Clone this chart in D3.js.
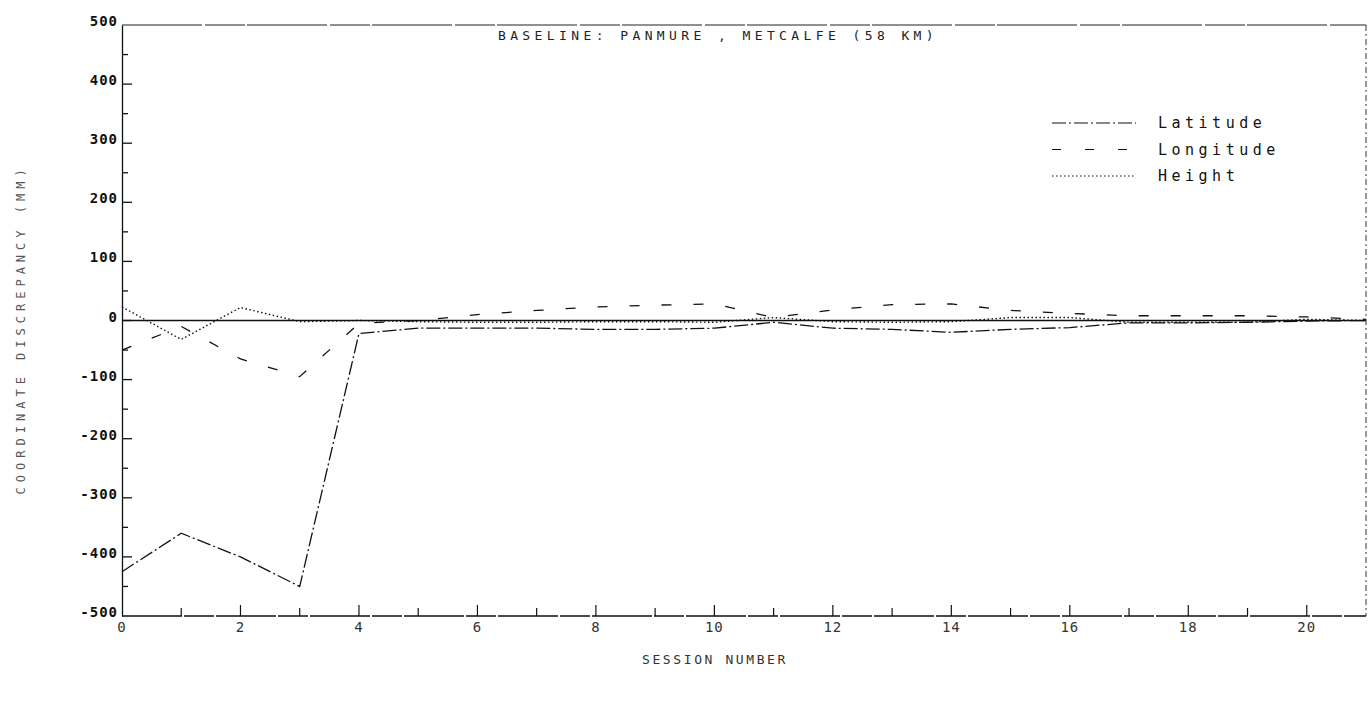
<!DOCTYPE html>
<html>
<head>
<meta charset="utf-8">
<script src="https://cdn.jsdelivr.net/npm/d3@7"></script>
<style>
  body { margin: 0; background: #fff; }
  svg { display: block; }
  text { font-family: 'DejaVu Sans Mono', monospace; fill: #111; }
</style>
</head>
<body>
<div id="chart"></div>
<script>
// Values (mm), one per session
const sessions  = [0, 1, 2, 3, 4, 5, 6, 7, 8, 9, 10, 11, 12, 13, 14, 15, 16, 17, 18, 19, 20, 21];
const latitude  = [-425, -360, -400, -450, -22, -13, -13, -13, -15, -15, -13, -3, -13, -15, -20, -15, -12, -4, -4, -3, -1, 0];
const longitude = [-50, -10, -65, -95, -5, 0, 10, 17, 23, 26, 28, 5, 18, 27, 28, 17, 12, 8, 8, 8, 6, 2];
const height    = [23, -32, 22, -2, 0, -2, -3, -3, -2, -2, -3, 5, -2, -3, -2, 5, 5, -3, -3, -3, 2, 0];

const xTickValues = [0, 2, 4, 6, 8, 10, 12, 14, 16, 18, 20];
const yTickValues = [-500, -400, -300, -200, -100, 0, 100, 200, 300, 400, 500];

const seriesNames = ['Latitude', 'Longitude', 'Height'];

const W = 1369, H = 704;
const margin = { top: 25, right: 3, bottom: 88, left: 122 };
const width = W - margin.left - margin.right;
const height_ = H - margin.top - margin.bottom;

// dash styles that mimic the pen plotter
const dashes = {
  Latitude: '14,3,2,3',
  Longitude: '10,22',
  Height: '1.5,2.5'
};

const x = d3.scaleLinear().domain([0, 21]).range([0, width]);
const y = d3.scaleLinear().domain([-500, 500]).range([height_, 0]);

const svg = d3.select('#chart')
  .append('svg')
  .attr('width', W)
  .attr('height', H);

const g = svg.append('g')
  .attr('transform', `translate(${margin.left}, ${margin.top})`);

// frame: top and right edges (dashed like the scan)
g.append('line')
  .attr('x1', 0).attr('x2', width).attr('y1', 0).attr('y2', 0)
  .attr('stroke', '#222').attr('stroke-width', 1.2)
  .attr('stroke-dasharray', '80,3,40,2');
g.append('line')
  .attr('x1', width).attr('x2', width).attr('y1', 0).attr('y2', height_)
  .attr('stroke', '#333').attr('stroke-width', 1)
  .attr('stroke-dasharray', '6,3,2,3');

// y axis: majors every 100, minors in between, ticks pointing inward
const yAxis = d3.axisRight(y)
  .tickValues(d3.range(-500, 501, 50))
  .tickSize(0)
  .tickFormat('');
g.append('g').call(yAxis)
  .call(s => s.select('.domain').attr('stroke', '#111').attr('stroke-width', 1.3));

g.append('g').selectAll('line')
  .data(d3.range(-450, 500, 50))
  .join('line')
  .attr('x1', 0)
  .attr('x2', d => d % 100 === 0 ? 10 : 6)
  .attr('y1', d => y(d)).attr('y2', d => y(d))
  .attr('stroke', '#111').attr('stroke-width', 1.3);

g.append('g').selectAll('text')
  .data(yTickValues)
  .join('text')
  .attr('x', -4)
  .attr('y', d => y(d) + 1)
  .attr('text-anchor', 'end')
  .style('font-size', '14px')
  .style('font-weight', 'bold')
  .style('letter-spacing', '1px')
  .text(d => d);

// x axis: ticks pointing up from the bottom edge
g.append('line')
  .attr('x1', 0).attr('x2', width).attr('y1', height_).attr('y2', height_)
  .attr('stroke', '#111').attr('stroke-width', 1.3)
  .attr('stroke-dasharray', '60,2,30,2');

g.append('g').selectAll('line')
  .data(d3.range(1, 21))
  .join('line')
  .attr('x1', d => x(d)).attr('x2', d => x(d))
  .attr('y1', height_)
  .attr('y2', d => height_ - (d % 2 === 0 ? 11 : 8))
  .attr('stroke', '#111').attr('stroke-width', 1.2);

g.append('g').selectAll('text')
  .data(xTickValues)
  .join('text')
  .attr('x', d => x(d))
  .attr('y', height_ + 16)
  .attr('text-anchor', 'middle')
  .style('font-size', '14px')
  .style('letter-spacing', '1px')
  .style('fill', '#333')
  .text(d => d);

// zero reference line
g.append('line')
  .attr('x1', 0).attr('x2', width).attr('y1', y(0)).attr('y2', y(0))
  .attr('stroke', '#111').attr('stroke-width', 1.6);

// series
const line = d3.line()
  .x((d, i) => x(sessions[i]))
  .y(d => y(d));

[latitude, longitude, height].forEach((vals, i) => {
  const name = seriesNames[i];
  g.append('path')
    .datum(vals)
    .attr('fill', 'none')
    .attr('stroke', '#111')
    .attr('stroke-width', name === 'Height' ? 1.4 : 1.3)
    .attr('stroke-dasharray', dashes[name])
    .attr('d', line);
});

// title
g.append('text')
  .attr('x', 718 - margin.left)
  .attr('y', 15)
  .attr('text-anchor', 'middle')
  .style('font-size', '13px')
  .style('letter-spacing', '4.4px')
  .style('fill', '#222')
  .text('BASELINE: PANMURE , METCALFE (58 KM)');

// legend
const legend = g.append('g')
  .attr('transform', `translate(${1052 - margin.left}, ${123 - margin.top})`);

seriesNames.forEach((name, i) => {
  legend.append('line')
    .attr('x1', 0).attr('x2', 84)
    .attr('y1', i * 26.5).attr('y2', i * 26.5)
    .attr('stroke', '#111')
    .attr('stroke-width', 1.2)
    .attr('stroke-dasharray', name === 'Longitude' ? '9,24' : dashes[name]);
  legend.append('text')
    .attr('x', 106)
    .attr('y', i * 26.5 + 5)
    .style('font-size', '15px')
    .style('letter-spacing', '4.5px')
    .text(name);
});

// axis titles
svg.append('text')
  .attr('transform', `translate(25, ${margin.top + y(-15)}) rotate(-90)`)
  .attr('text-anchor', 'middle')
  .style('font-size', '12px')
  .style('letter-spacing', '5px')
  .style('fill', '#555')
  .text('COORDINATE DISCREPANCY (MM)');

svg.append('text')
  .attr('x', 715)
  .attr('y', margin.top + height_ + 48)
  .attr('text-anchor', 'middle')
  .style('font-size', '13px')
  .style('letter-spacing', '2.6px')
  .style('fill', '#333')
  .text('SESSION NUMBER');
</script>
</body>
</html>
